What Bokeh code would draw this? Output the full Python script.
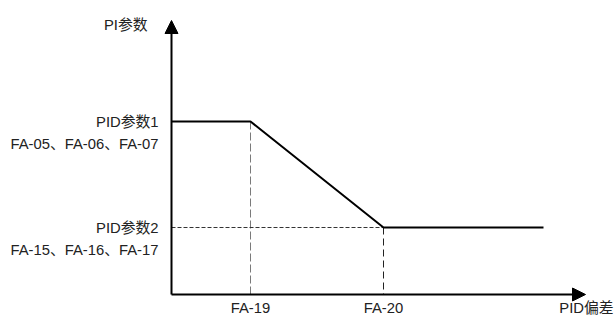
from bokeh.plotting import figure
from bokeh.models import Range1d, Arrow, NormalHead
from bokeh.core.properties import value
from bokeh.embed import file_html
from bokeh.resources import INLINE

# schematic values (units, origin at axis crossing)
pid_error = [0, 79, 212, 372]
pi_param = [173, 173, 67, 67]
x_ticks = [79, 212]
x_tick_labels = ["FA-19", "FA-20"]
y_ticks = [173, 67]
y_tick_labels = ["PID参数1", "PID参数2"]
y_tick_sublabels = ["FA-05、FA-06、FA-07", "FA-15、FA-16、FA-17"]
x_axis_end = 414
y_axis_end = 274
x_title = "PID偏差"
y_title = "PI参数"

FONT = value("Liberation Sans, Noto Sans CJK SC")
FS = "14.8px"

p = figure(width=614, height=324, output_backend="svg", toolbar_location=None,
           x_range=Range1d(-171, 443), y_range=Range1d(-30, 294),
           min_border=0, outline_line_color=None)
p.axis.visible = False
p.grid.visible = False
p.background_fill_color = "white"

# dashed guides
p.segment(x0=[x_ticks[0]], y0=[y_ticks[0]], x1=[x_ticks[0]], y1=[0],
          line_color="#7a7a7a", line_width=1, line_dash="8 3")
p.segment(x0=[x_ticks[1]], y0=[y_ticks[1]], x1=[x_ticks[1]], y1=[0],
          line_color="#222222", line_width=1, line_dash="7 4")
p.segment(x0=[0], y0=[y_ticks[1]], x1=[x_ticks[1]], y1=[y_ticks[1]],
          line_color="#333333", line_width=1, line_dash="4 2")

# main curve
p.line(pid_error, pi_param, line_color="black", line_width=2)

# axes with arrows
p.add_layout(Arrow(x_start=0, y_start=0, x_end=x_axis_end, y_end=0,
                   line_width=2, line_color="black",
                   end=NormalHead(size=13, fill_color="black", line_color="black", line_width=1)))
p.add_layout(Arrow(x_start=0, y_start=0, x_end=0, y_end=y_axis_end,
                   line_width=2, line_color="black",
                   end=NormalHead(size=13, fill_color="black", line_color="black", line_width=1)))

# tick labels
p.text(x=x_ticks, y=[-13, -13], text=x_tick_labels, text_font=FONT,
       text_font_size=FS, text_align="center", text_baseline="middle",
       text_color="#222222")
p.text(x=[-13, -13], y=y_ticks, text=y_tick_labels, text_font=FONT,
       text_font_size=FS, text_align="right", text_baseline="middle",
       text_color="#222222")
p.text(x=[-13, -13], y=[v - 22 for v in y_ticks], text=y_tick_sublabels, text_font=FONT,
       text_font_size=FS, text_align="right", text_baseline="middle",
       text_color="#222222")

# axis titles
p.text(x=[x_axis_end + 1], y=[-13], text=[x_title], text_font=FONT,
       text_font_size=FS, text_align="center", text_baseline="middle",
       text_color="#222222")
p.text(x=[-24], y=[y_axis_end - 4], text=[y_title], text_font=FONT,
       text_font_size=FS, text_align="right", text_baseline="middle",
       text_color="#222222")

open("out.html", "w").write(file_html(p, INLINE))
